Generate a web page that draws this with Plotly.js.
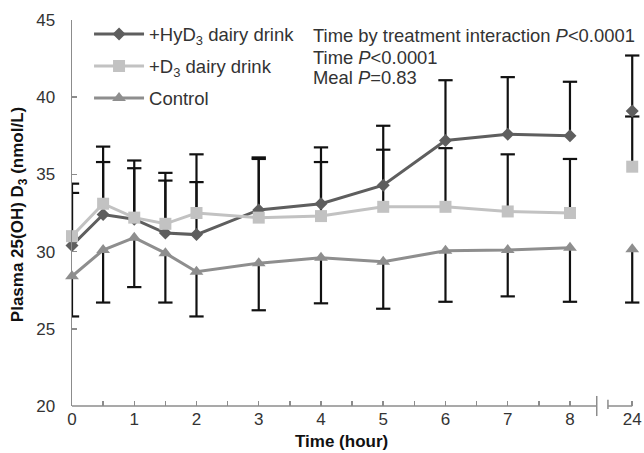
<!DOCTYPE html>
<html>
<head>
<meta charset="utf-8">
<script src="https://cdn.plot.ly/plotly-3.0.1.min.js"></script>
<style>html,body{margin:0;padding:0;background:#fff}</style>
</head>
<body>
<div id="chart" style="width:644px;height:453px"></div>
<script>
// ---- data ----
const timeHours = [0, 0.5, 1, 1.5, 2, 3, 4, 5, 6, 7, 8, 24];
const hyd3Values = [30.4, 32.4, 32.1, 31.2, 31.1, 32.7, 33.1, 34.3, 37.2, 37.6, 37.5, 39.1];
const hyd3Errors = [4.0, 4.4, 3.8, 3.9, 3.4, 3.4, 3.65, 3.85, 3.9, 3.7, 3.5, 3.6];
const d3Values = [31.0, 33.1, 32.2, 31.8, 32.5, 32.2, 32.3, 32.9, 32.9, 32.6, 32.5, 35.5];
const d3Errors = [2.8, 2.7, 3.2, 2.8, 3.8, 3.8, 3.5, 3.7, 3.8, 3.7, 3.5, 3.25];
const controlValues = [28.4, 30.1, 30.9, 29.9, 28.7, 29.25, 29.6, 29.35, 30.05, 30.1, 30.25, 30.15];
const controlErrors = [2.6, 3.4, 3.2, 3.2, 2.9, 3.05, 2.95, 3.05, 3.3, 3.0, 3.5, 3.45];
const xTickLabels = ['0', '1', '2', '3', '4', '5', '6', '7', '8', '24'];
const yTickValues = [20, 25, 30, 35, 40, 45];
const seriesNames = ['+HyD<sub>3</sub> dairy drink', '+D<sub>3</sub> dairy drink', 'Control'];
const statLines = [
  'Time by treatment interaction <i>P</i>&lt;0.0001',
  'Time <i>P</i>&lt;0.0001',
  'Meal <i>P</i>=0.83'
];

// ---- display helpers ----
const BREAK_POS = 9;         // 24 h is drawn one unit right of 8 h, after an axis break
const lastContinuous = 8;
function pos(t) { return t <= lastContinuous ? t : BREAK_POS; }

function seriesXY(vals) {
  const x = [], y = [];
  timeHours.forEach((t, i) => {
    if (i > 0 && timeHours[i - 1] <= lastContinuous && t > lastContinuous) { x.push(null); y.push(null); }
    x.push(pos(t)); y.push(vals[i]);
  });
  return {x, y};
}

const capHalf = 0.115;
function errTrace(vals, errs, dir) {
  const x = [], y = [];
  timeHours.forEach((t, i) => {
    const px = pos(t), end = vals[i] + dir * errs[i];
    x.push(px, px, null, px - capHalf, px + capHalf, null);
    y.push(vals[i], end, null, end, end, null);
  });
  return {x, y, mode: 'lines', type: 'scatter', line: {color: '#111', width: 2.2},
          showlegend: false, hoverinfo: 'skip'};
}

const colors = ['#5e5e5e', '#c2c2c2', '#8e8e8e'];
const symbols = ['diamond', 'square', 'triangle-up'];
const msizes = [10, 12, 12];
const valueSets = [hyd3Values, d3Values, controlValues];

const traces = [
  errTrace(hyd3Values, hyd3Errors, 1),
  errTrace(d3Values, d3Errors, 1),
  errTrace(controlValues, controlErrors, -1)
];
valueSets.forEach((v, k) => {
  const xy = seriesXY(v);
  traces.push({
    type: 'scatter', mode: 'lines+markers', name: seriesNames[k],
    x: xy.x, y: xy.y, connectgaps: false, cliponaxis: false,
    legendgroup: 'g' + k,
    line: {color: colors[k], width: 3},
    marker: {symbol: symbols[k], size: msizes[k], color: colors[k]}
  });
});

const axisGray = '#8c8c8c';
const font = 'Liberation Sans, Arial, sans-serif';
const breakX = 8.43, seg2X = 8.61;

const statY = [0.961, 0.904, 0.850];
const annotations = statLines.map((t, i) => ({
  xref: 'paper', yref: 'paper', x: 0.421, y: statY[i], xanchor: 'left', yanchor: 'middle',
  showarrow: false, align: 'left', font: {size: 18.4, color: '#333'}, text: t
}));
annotations.push(
  {xref: 'paper', yref: 'paper', x: -0.07, y: 0.495, xanchor: 'right', yanchor: 'middle', showarrow: false,
   textangle: -90, font: {size: 17, color: '#111'},
   text: '<b>Plasma 25(OH) D<sub>3</sub> (nmol/L)</b>'},
  {xref: 'paper', yref: 'paper', x: 0.475, y: -0.0907, xanchor: 'center', yanchor: 'middle', showarrow: false,
   borderpad: 0, font: {size: 17, color: '#111'}, text: '<b>Time (hour)</b>'}
);

const layout = {
  width: 644, height: 453, autosize: false,
  margin: {l: 72, r: 4, t: 20, b: 47, pad: 0},
  paper_bgcolor: '#fff', plot_bgcolor: '#fff',
  font: {family: font, color: '#333'},
  showlegend: true,
  legend: {x: 0.03, y: 1.012, xanchor: 'left', yanchor: 'top', bgcolor: 'rgba(0,0,0,0)',
           font: {size: 18.5, color: '#333', family: font}, tracegroupgap: 5, itemwidth: 50},
  xaxis: {
    range: [0, 9.125], showgrid: false, zeroline: false, showline: false,
    tickmode: 'array', tickvals: xTickLabels.map(s => pos(Number(s))), ticktext: xTickLabels,
    ticks: 'inside', ticklen: 5, tickwidth: 1.5, tickcolor: axisGray,
    tickfont: {size: 17, color: '#333'}, ticklabelstandoff: 1,
    minor: {tickmode: 'array', tickvals: [0.5, 1.5, 2.5, 3.5, 4.5, 5.5, 6.5, 7.5],
            ticks: 'inside', ticklen: 5, tickwidth: 1.5, tickcolor: axisGray}
  },
  yaxis: {
    range: [20, 45], showgrid: false, zeroline: false, showline: true,
    linecolor: axisGray, linewidth: 1.5,
    tickmode: 'array', tickvals: yTickValues,
    ticks: 'inside', ticklen: 5, tickwidth: 1.5, tickcolor: axisGray,
    tickfont: {size: 17, color: '#333'}, ticklabelstandoff: 12
  },
  shapes: [
    {type: 'line', xref: 'x', yref: 'paper', x0: 0, x1: breakX, y0: 0, y1: 0, line: {color: axisGray, width: 1.5}},
    {type: 'line', xref: 'x', yref: 'paper', x0: breakX, x1: breakX, y0: -0.026, y1: 0.026, line: {color: axisGray, width: 1.5}},
    {type: 'line', xref: 'x', yref: 'paper', x0: seg2X, x1: BREAK_POS, y0: 0, y1: 0, line: {color: axisGray, width: 1.5}},
    {type: 'line', xref: 'x', yref: 'paper', x0: seg2X, x1: seg2X, y0: -0.008, y1: 0.016, line: {color: axisGray, width: 1.5}}
  ],
  annotations: annotations
};

Plotly.newPlot('chart', traces, layout, {displayModeBar: false, staticPlot: true});
</script>
</body>
</html>
